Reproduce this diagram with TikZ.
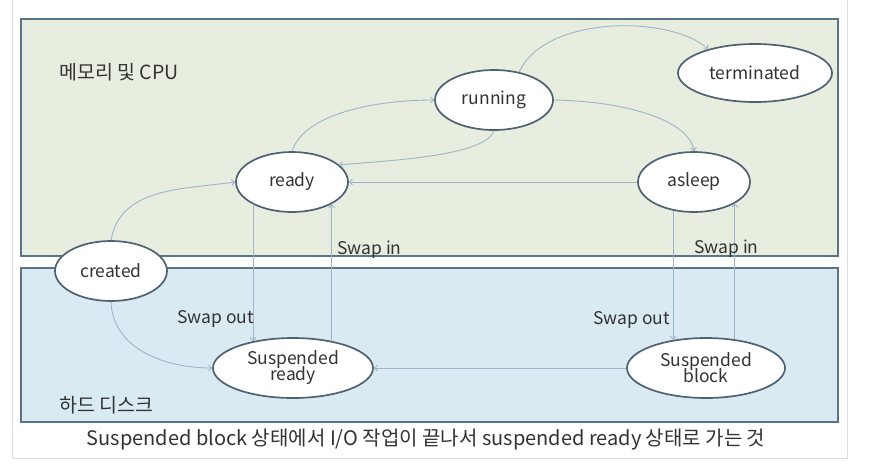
\documentclass[tikz,border=0pt]{standalone}
\usepackage{fontspec}
\setmainfont{Noto Sans CJK KR}
\usetikzlibrary{shapes.geometric,arrows.meta}
\definecolor{greenfill}{HTML}{E8EEDF}
\definecolor{bluefill}{HTML}{DAEAF3}
\definecolor{boxline}{HTML}{5B7386}
\definecolor{nodeline}{HTML}{4E6273}
\definecolor{edgecol}{HTML}{9DB5CA}
\definecolor{txt}{HTML}{333333}
\definecolor{panel}{HTML}{DDDDDD}
\tikzset{
  state/.style={ellipse, draw=nodeline, line width=1.7pt, fill=white, text=txt,
    font=\fontsize{17.5}{19}\selectfont, align=center, inner sep=0pt},
  edge/.style={draw=edgecol, line width=0.9pt, -{Straight Barb[length=3pt,width=6pt]}},
  lbl/.style={text=txt, font=\fontsize{17.5}{19}\selectfont, inner sep=0pt},
  klbl/.style={text=txt, font=\fontsize{19.5}{21}\selectfont, inner sep=0pt},
  area/.style={draw=boxline, line width=2pt}
}
\begin{document}
\begin{tikzpicture}[x=1pt,y=1pt]
\useasboundingbox (0,0) rectangle (874,-464);
\fill[white] (0,0) rectangle (874,-464);
\draw[panel, line width=1pt] (12,0) -- (12,-458) -- (847,-458) -- (847,0);
% areas
\draw[area, fill=greenfill] (21,-19) rectangle (838,-256);
\draw[area, fill=bluefill] (21,-268) rectangle (838,-422);
\node[klbl, anchor=west] (mem) at (59,-72) {메모리 및 CPU};
\node[klbl, anchor=west] (hdd) at (59,-405) {하드 디스크};
% states
\node[state, minimum width=118pt, minimum height=60pt] (running) at (494,-100) {running};
\node[state, minimum width=154pt, minimum height=58pt] (term) at (755,-73) {terminated};
\node[state, minimum width=112pt, minimum height=60pt] (asleep) at (694,-182) {asleep};
\node[state, minimum width=112pt, minimum height=60pt] (ready) at (292,-182) {ready};
\node[state, minimum width=112pt, minimum height=60pt] (created) at (111,-271) {created};
\node[state, minimum width=160pt, minimum height=60pt] (sready) at (293,-368) {Suspended\\[-3pt]ready};
\node[state, minimum width=158pt, minimum height=60pt] (sblock) at (706,-368) {Suspended\\[-3pt]block};
% edges
\draw[edge] (created.north) to[out=80,in=188] (ready.west);
\draw[edge] (created.south) to[out=-88,in=180] (sready.west);
\draw[edge] (ready.north) .. controls (305,-112) and (380,-100) .. (running.west);
\draw[edge] (running.south) .. controls (485,-155) and (400,-160) .. (ready.20);
\draw[edge] (running.48) .. controls (545,-15) and (670,-15) .. (term.153);
\draw[edge] (running.east) .. controls (640,-102) and (690,-125) .. (asleep.north);
\draw[edge] (asleep.west) -- (ready.east);
\draw[edge] (sblock.west) -- (sready.east);
\draw[edge] (ready.210) -- (ready.210 |- sready.146);
\draw[edge] (sready.35) -- (sready.35 |- ready.331);
\draw[edge] (asleep.234) -- (asleep.234 |- sblock.139);
\draw[edge] (sblock.45) -- (sblock.45 |- asleep.332);
% labels
\node[lbl, anchor=south west] (swin1) at (337,-259) {Swap in};
\node[lbl, anchor=south west] (swout1) at (177,-328) {Swap out};
\node[lbl, anchor=south west] (swout2) at (593,-329) {Swap out};
\node[lbl, anchor=south west] (swin2) at (694,-258) {Swap in};
\node[klbl, font=\fontsize{20}{22}\selectfont] (caption) at (426,-440) {Suspended block 상태에서 I/O 작업이 끝나서 suspended ready 상태로 가는 것};
\end{tikzpicture}
\end{document}
